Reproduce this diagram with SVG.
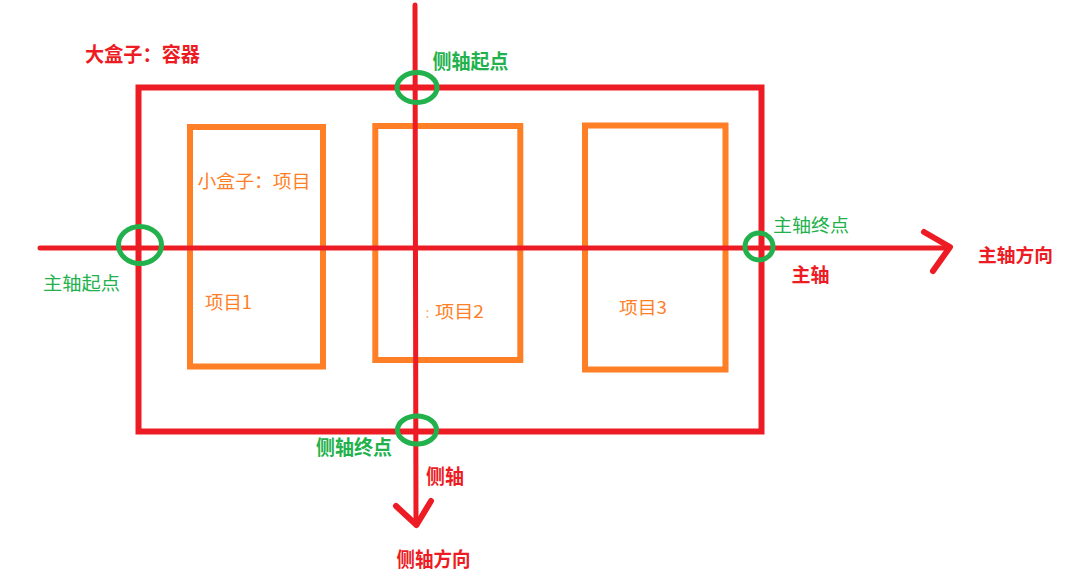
<svg xmlns="http://www.w3.org/2000/svg" width="1068" height="581" viewBox="0 0 1068 581">
<style>
  text { font-family: "Microsoft YaHei", "Noto Sans CJK SC", "Noto Sans", sans-serif; }
  .red { fill: #ED1C24; }
  .grn { fill: #22B14C; }
  .org { fill: #FF7F27; }
  .b { font-weight: bold; }
  .box { fill: none; stroke: #FF7F27; stroke-width: 6; }
  .cont { fill: none; stroke: #ED1C24; stroke-width: 6; }
  .axis { fill: none; stroke: #ED1C24; stroke-width: 5; stroke-linecap: round; stroke-linejoin: round; }
  .head { fill: none; stroke: #ED1C24; stroke-width: 6; stroke-linecap: round; stroke-linejoin: round; }
  .ring { fill: none; stroke: #22B14C; stroke-width: 5; }
</style>
<rect width="1068" height="581" fill="#ffffff"/>

<g id="container">
  <rect class="cont" x="138.5" y="87.5" width="623" height="344"/>
  <text class="red b" x="85" y="62" font-size="20" textLength="115" lengthAdjust="spacingAndGlyphs">大盒子：容器</text>
</g>

<g id="item1">
  <rect class="box" x="190" y="127" width="133" height="239.5"/>
  <text class="org" x="197.5" y="188" font-size="18" textLength="113" lengthAdjust="spacingAndGlyphs">小盒子：项目</text>
  <text class="org" x="205" y="308.5" font-size="18" textLength="47" lengthAdjust="spacingAndGlyphs">项目1</text>
</g>

<g id="item2">
  <rect class="box" x="375.3" y="126" width="145" height="234"/>
  <text class="org" x="425.5" y="318" font-size="14" opacity="0.6">:</text>
  <text class="org" x="435" y="318" font-size="17" textLength="49" lengthAdjust="spacingAndGlyphs">项目2</text>
</g>

<g id="item3">
  <rect class="box" x="585" y="125.5" width="140.5" height="244"/>
  <text class="org" x="619" y="314" font-size="17.5" textLength="48" lengthAdjust="spacingAndGlyphs">项目3</text>
</g>

<g id="connectors">
  <line class="axis" x1="40" y1="248" x2="949" y2="248"/>
  <polyline class="head" points="924,232 950,247 933,271"/>
  <line class="axis" x1="415" y1="5" x2="416" y2="524"/>
  <polyline class="head" points="396,506 416.5,525 431,501"/>
</g>

<g id="main-start">
  <ellipse class="ring" cx="140" cy="245" rx="21.5" ry="18.5"/>
  <text class="grn" x="43" y="289.5" font-size="18.5" textLength="77" lengthAdjust="spacingAndGlyphs">主轴起点</text>
</g>

<g id="main-end">
  <ellipse class="ring" cx="759" cy="246.5" rx="14" ry="13.5"/>
  <text class="grn" x="773" y="231.5" font-size="18" textLength="76" lengthAdjust="spacingAndGlyphs">主轴终点</text>
</g>

<g id="cross-start">
  <ellipse class="ring" cx="417" cy="87.5" rx="20" ry="15"/>
  <text class="grn b" x="432.5" y="68.7" font-size="20" textLength="76" lengthAdjust="spacingAndGlyphs">侧轴起点</text>
</g>

<g id="cross-end">
  <ellipse class="ring" cx="417" cy="430" rx="19.5" ry="14"/>
  <text class="grn b" x="316" y="454.7" font-size="20" textLength="76" lengthAdjust="spacingAndGlyphs">侧轴终点</text>
</g>

<g id="main-axis-labels">
  <text class="red b" x="791.5" y="281.5" font-size="19.5" textLength="38" lengthAdjust="spacingAndGlyphs">主轴</text>
  <text class="red b" x="978" y="262" font-size="18.5" textLength="75" lengthAdjust="spacingAndGlyphs">主轴方向</text>
</g>

<g id="cross-axis-labels">
  <text class="red b" x="426" y="483.5" font-size="20" textLength="38" lengthAdjust="spacingAndGlyphs">侧轴</text>
  <text class="red b" x="396.5" y="566.7" font-size="20" textLength="74" lengthAdjust="spacingAndGlyphs">侧轴方向</text>
</g>
</svg>
